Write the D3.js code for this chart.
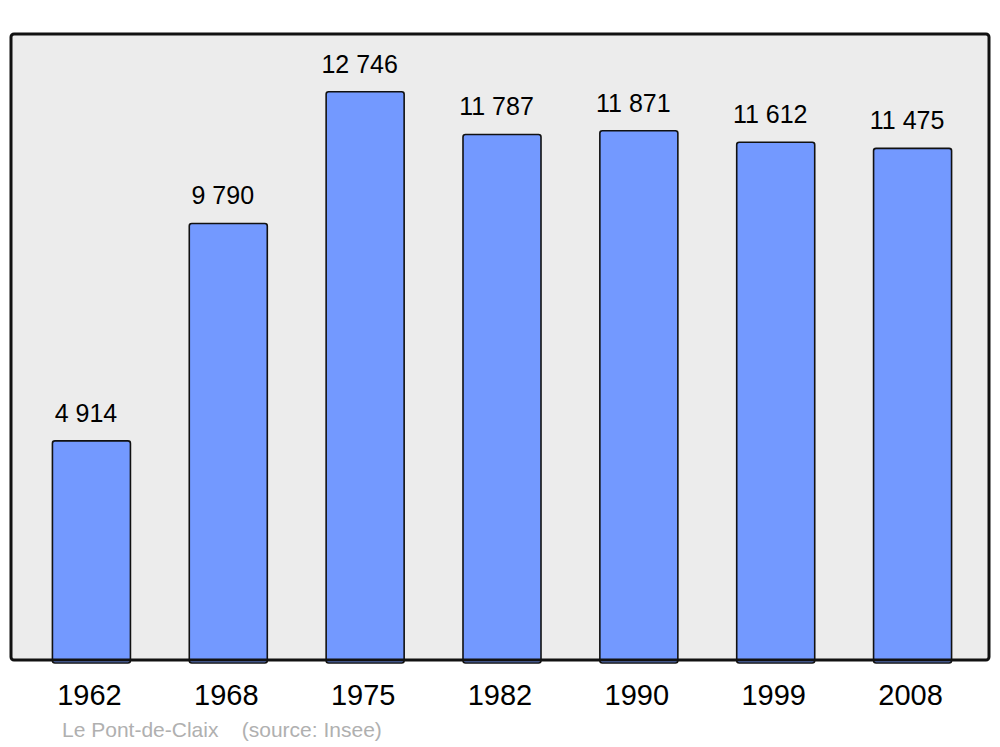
<!DOCTYPE html>
<html>
<head>
<meta charset="utf-8">
<script src="https://cdn.jsdelivr.net/npm/d3@7"></script>
<style>
  body { margin: 0; background: #fff; }
  svg { display: block; font-family: "Liberation Sans", Arial, sans-serif; }
</style>
</head>
<body>
<svg width="1000" height="747"></svg>
<script>
const years = ["1962", "1968", "1975", "1982", "1990", "1999", "2008"];
const population = [4914, 9790, 12746, 11787, 11871, 11612, 11475];
const valueLabels = ["4 914", "9 790", "12 746", "11 787", "11 871", "11 612", "11 475"];
const caption = "Le Pont-de-Claix    (source: Insee)";

const svg = d3.select("svg");

const data = years.map((y, i) => ({ year: y, pop: population[i], label: valueLabels[i] }));

// plot frame
const frame = { left: 11, top: 34, right: 989, bottom: 660 };

const xScale = d3.scaleBand()
  .domain(years)
  .range([23, 981])
  .paddingInner(0.43)
  .paddingOuter(0.215);

const yScale = d3.scaleLinear()
  .domain([0, 14040])
  .range([frame.bottom, frame.top]);

svg.append("rect")
  .attr("x", frame.left)
  .attr("y", frame.top)
  .attr("width", frame.right - frame.left)
  .attr("height", frame.bottom - frame.top)
  .attr("rx", 3)
  .attr("fill", "#ececec");

svg.selectAll("rect.bar")
  .data(data)
  .join("rect")
  .attr("class", "bar")
  .attr("x", d => xScale(d.year))
  .attr("y", d => yScale(d.pop))
  .attr("width", xScale.bandwidth())
  .attr("height", d => frame.bottom - yScale(d.pop) + 3)
  .attr("rx", 2.5)
  .attr("fill", "#7399ff")
  .attr("stroke", "#111")
  .attr("stroke-width", 1.6);

// frame border drawn on top
svg.append("rect")
  .attr("x", frame.left)
  .attr("y", frame.top)
  .attr("width", frame.right - frame.left)
  .attr("height", frame.bottom - frame.top)
  .attr("rx", 3)
  .attr("fill", "none")
  .attr("stroke", "#111")
  .attr("stroke-width", 3);

svg.selectAll("text.value")
  .data(data)
  .join("text")
  .attr("class", "value")
  .attr("x", d => xScale(d.year) + xScale.bandwidth() / 2 - 5.5)
  .attr("y", d => yScale(d.pop) - 19)
  .attr("text-anchor", "middle")
  .attr("font-size", 25)
  .attr("fill", "#000")
  .text(d => d.label);

svg.selectAll("text.year")
  .data(data)
  .join("text")
  .attr("class", "year")
  .attr("x", d => xScale(d.year) + xScale.bandwidth() / 2 - 2)
  .attr("y", 705)
  .attr("text-anchor", "middle")
  .attr("font-size", 29)
  .attr("fill", "#000")
  .text(d => d.year);

svg.append("text")
  .attr("x", 62)
  .attr("y", 737)
  .attr("font-size", 21)
  .attr("fill", "#b0b0b0")
  .attr("xml:space", "preserve")
  .style("white-space", "pre")
  .text(caption);
</script>
</body>
</html>
